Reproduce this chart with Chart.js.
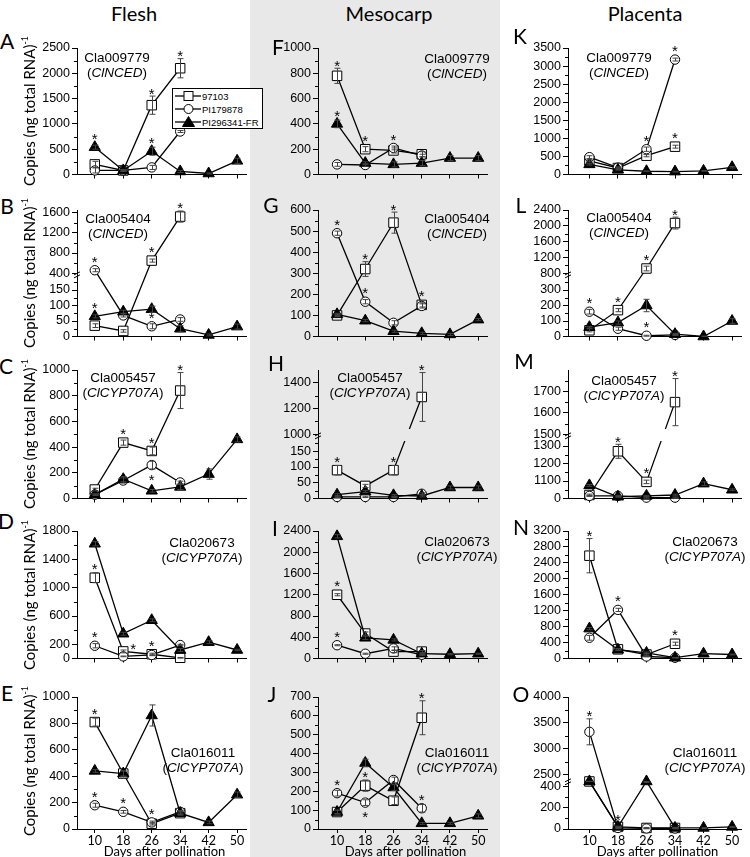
<!DOCTYPE html>
<html>
<head>
<meta charset="utf-8">
<script src="https://cdn.jsdelivr.net/npm/chart.js@4.4.1/dist/chart.umd.min.js"></script>
<style>
html,body{margin:0;padding:0;background:#fff}
body{width:750px;height:857px;position:relative;overflow:hidden}
#meso{position:absolute;left:250px;top:0;width:250px;height:857px;background:#e8e8e8}
.cv{position:absolute;z-index:2}
.ov{position:absolute;z-index:5;color:#000;white-space:nowrap}
.ttl{font-family:Lato,sans-serif;font-size:20px;transform:translate(-50%,-50%)}
.let{font-family:Lato,sans-serif;font-size:21px;transform:translate(-50%,-50%)}
.gene{font-family:'Liberation Sans',Arial,sans-serif;font-size:13.5px;line-height:15px;text-align:center;transform:translate(-50%,0)}
.yt{font-family:Lato,sans-serif;font-size:15px;transform:translate(-50%,-50%) rotate(-90deg)}
.yt sup{font-size:9px;position:relative;top:-1px}
#legend{position:absolute;z-index:6;left:172px;top:88px;width:89px;height:39px;border:1px solid #000;background:#fff;font-family:'Liberation Sans',Arial,sans-serif;font-size:9.5px}
#legend .row{position:absolute;left:2px;height:13px;line-height:13px;white-space:nowrap}
#legend svg{vertical-align:top}
#legend span{position:absolute;left:27px;top:0}
#xt{position:absolute;z-index:5;top:845px;font-family:Lato,sans-serif;font-size:13px;line-height:12px;transform:translate(-50%,0);white-space:nowrap}
</style>
</head>
<body>
<div id="meso"></div>
<script>
// ---------------- DATA ----------------
const days = [10, 18, 26, 34, 42, 50];
const xTickLabels = ['10', '18', '26', '34', '42', '50'];
const seriesNames = ['97103', 'PI179878', 'PI296341-FR'];

// A  Flesh  Cla009779 (ClNCED)
const A_97103 = [200, 80, 1370, 2100];
const A_PI179878 = [80, 80, 140, 850];
const A_PI296341 = [540, 80, 460, 60, 20, 270];
const A_err97103 = [60, 20, 180, 190];
const A_errPI179878 = [50, 10, 40, 20];
const A_errPI296341 = [40, 10, 80, 20, 10, 50];
const A_sig97103 = ['', '', 'a', 'a'];
const A_sigPI179878 = ['', '', '', 'r'];
const A_sigPI296341 = ['a', '', 'a', '', '', ''];
const A_yTicks = [0, 500, 1000, 1500, 2000, 2500];
const A_yMinor = [250, 750, 1250, 1750, 2250];

// B  Flesh  Cla005404 (ClNCED)  broken axis
const B_97103 = [35, 18, 650, 1520];
const B_PI179878 = [460, 68, 33, 55];
const B_PI296341 = [65, 80, 88, 25, 5, 32];
const B_err97103 = [6, 4, 30, 110];
const B_errPI179878 = [30, 5, 8, 6];
const B_errPI296341 = [5, 5, 10, 10, 3, 8];
const B_sig97103 = ['', '', 'a', 'a'];
const B_sigPI179878 = ['a', '', 'a', ''];
const B_sigPI296341 = ['a', '', '', '', '', ''];
const B_yTicks = [0, 50, 100, 150, 400, 800, 1200, 1600];
const B_yMinor = [25, 75, 125, 175, 600, 1000, 1400];

// C  Flesh  Cla005457 (ClCYP707A)
const C_97103 = [70, 435, 370, 840];
const C_PI179878 = [30, 140, 260, 125];
const C_PI296341 = [30, 150, 60, 90, 190, 460];
const C_err97103 = [10, 20, 30, 140];
const C_errPI179878 = [5, 20, 30, 10];
const C_errPI296341 = [5, 20, 10, 20, 40, 20];
const C_sig97103 = ['', 'a', 'a', 'a'];
const C_sigPI179878 = ['', '', 'b', ''];
const C_sigPI296341 = ['', '', '', '', '', ''];
const C_yTicks = [0, 200, 400, 600, 800, 1000];
const C_yMinor = [100, 300, 500, 700, 900];

// D  Flesh  Cla020673 (ClCYP707A)
const D_97103 = [1140, 100, 60, 10];
const D_PI179878 = [180, 30, 50, 190];
const D_PI296341 = [1620, 350, 540, 120, 230, 120];
const D_err97103 = [70, 20, 15, 5];
const D_errPI179878 = [30, 5, 10, 10];
const D_errPI296341 = [30, 20, 20, 20, 20, 10];
const D_sig97103 = ['a', 'r', 'a', ''];
const D_sigPI179878 = ['a', '', '', ''];
const D_sigPI296341 = ['', '', '', '', '', ''];
const D_yTicks = [0, 200, 600, 1000, 1400, 1800];
const D_yMinor = [400, 800, 1200, 1600];

// E  Flesh  Cla016011 (ClCYP707A)
const E_97103 = [810, 420, 40, 120];
const E_PI179878 = [180, 130, 50, 130];
const E_PI296341 = [440, 420, 860, 120, 50, 260];
const E_err97103 = [30, 20, 10, 10];
const E_errPI179878 = [15, 10, 10, 10];
const E_errPI296341 = [10, 20, 80, 15, 10, 20];
const E_sig97103 = ['a', '', '', ''];
const E_sigPI179878 = ['a', 'a', 'a', ''];
const E_sigPI296341 = ['', '', '', '', '', ''];
const E_yTicks = [0, 200, 400, 600, 800, 1000];
const E_yMinor = [100, 300, 500, 700, 900];

// F  Mesocarp  Cla009779 (ClNCED)
const F_97103 = [780, 200, 190, 160];
const F_PI179878 = [80, 75, 210, 150];
const F_PI296341 = [400, 90, 80, 90, 130, 130];
const F_err97103 = [60, 20, 20, 20];
const F_errPI179878 = [15, 10, 15, 10];
const F_errPI296341 = [30, 10, 20, 20, 20, 20];
const F_sig97103 = ['a', 'a', '', ''];
const F_sigPI179878 = ['', '', 'a', ''];
const F_sigPI296341 = ['a', '', '', '', '', ''];
const F_yTicks = [0, 200, 400, 600, 800, 1000];
const F_yMinor = [100, 300, 500, 700, 900];

// G  Mesocarp  Cla005404 (ClNCED)
const G_97103 = [100, 320, 540, 150];
const G_PI179878 = [490, 165, 65, 145];
const G_PI296341 = [105, 75, 25, 15, 10, 80];
const G_err97103 = [5, 35, 50, 10];
const G_errPI179878 = [10, 10, 10, 10];
const G_errPI296341 = [5, 5, 5, 5, 5, 5];
const G_sig97103 = ['', 'a', 'a', 'a'];
const G_sigPI179878 = ['a', 'a', '', ''];
const G_sigPI296341 = ['', '', '', '', '', ''];
const G_yTicks = [0, 100, 200, 300, 400, 500, 600];
const G_yMinor = [50, 150, 250, 350, 450, 550];

// H  Mesocarp  Cla005457 (ClCYP707A)  broken axis
const H_97103 = [90, 40, 90, 1290];
const H_PI179878 = [5, 5, 5, 15];
const H_PI296341 = [12, 22, 10, 8, 35, 35];
const H_err97103 = [15, 5, 15, 190];
const H_errPI179878 = [2, 2, 2, 3];
const H_errPI296341 = [3, 3, 3, 3, 5, 5];
const H_sig97103 = ['a', '', 'a', 'a'];
const H_sigPI179878 = ['', '', '', ''];
const H_sigPI296341 = ['', '', '', '', '', ''];
const H_yTicks = [0, 50, 100, 150, 1000, 1200, 1400];
const H_yMinor = [25, 75, 125, 175, 1100, 1300];

// I  Mesocarp  Cla020673 (ClCYP707A)
const I_97103 = [1200, 470, 130, 130];
const I_PI179878 = [250, 90, 190, 70];
const I_PI296341 = [2300, 390, 350, 90, 80, 90];
const I_err97103 = [20, 30, 20, 20];
const I_errPI179878 = [10, 10, 30, 10];
const I_errPI296341 = [30, 30, 20, 10, 10, 10];
const I_sig97103 = ['a', '', '', ''];
const I_sigPI179878 = ['a', '', '', ''];
const I_sigPI296341 = ['', '', '', '', '', ''];
const I_yTicks = [0, 400, 800, 1200, 1600, 2000, 2400];
const I_yMinor = [200, 600, 1000, 1400, 1800, 2200];

// J  Mesocarp  Cla016011 (ClCYP707A)
const J_97103 = [90, 230, 150, 590];
const J_PI179878 = [190, 140, 260, 110];
const J_PI296341 = [90, 350, 220, 30, 30, 70];
const J_err97103 = [10, 30, 20, 90];
const J_errPI179878 = [15, 15, 15, 20];
const J_errPI296341 = [10, 20, 15, 5, 5, 10];
const J_sig97103 = ['', 'a', '', 'a'];
const J_sigPI179878 = ['a', 'b', '', 'a'];
const J_sigPI296341 = ['', '', '', '', '', ''];
const J_yTicks = [0, 100, 200, 300, 400, 500, 600, 700];
const J_yMinor = [50, 150, 250, 350, 450, 550, 650];

// K  Placenta  Cla009779 (ClNCED)
const K_97103 = [380, 180, 520, 770];
const K_PI179878 = [480, 190, 700, 3180];
const K_PI296341 = [280, 130, 90, 80, 100, 200];
const K_err97103 = [30, 20, 30, 40];
const K_errPI179878 = [40, 20, 60, 40];
const K_errPI296341 = [20, 10, 10, 10, 10, 20];
const K_sig97103 = ['', '', '', 'a'];
const K_sigPI179878 = ['', '', 'a', 'a'];
const K_sigPI296341 = ['', '', '', '', '', ''];
const K_yTicks = [0, 500, 1000, 1500, 2000, 2500, 3000, 3500];
const K_yMinor = [250, 750, 1250, 1750, 2250, 2750, 3250];

// L  Placenta  Cla005404 (ClNCED)  broken axis
const L_97103 = [40, 170, 920, 2070];
const L_PI179878 = [160, 50, 5, 10];
const L_PI296341 = [60, 90, 200, 15, 0, 100];
const L_err97103 = [10, 10, 60, 150];
const L_errPI179878 = [15, 10, 3, 3];
const L_errPI296341 = [5, 10, 40, 5, 3, 15];
const L_sig97103 = ['', 'a', 'a', 'a'];
const L_sigPI179878 = ['a', '', 'a', ''];
const L_sigPI296341 = ['', '', '', '', '', ''];
const L_yTicks = [0, 100, 200, 300, 800, 1200, 1600, 2000, 2400];
const L_yMinor = [50, 150, 250, 350, 1000, 1400, 1800, 2200];

// M  Placenta  Cla005457 (ClCYP707A)  broken axis (labels as printed)
const M_97103 = [1020, 1270, 1095, 1650];
const M_PI179878 = [1015, 1015, 1005, 1005];
const M_PI296341 = [1075, 1010, 1015, 1020, 1085, 1050];
const M_err97103 = [5, 40, 10, 110];
const M_errPI179878 = [3, 3, 3, 3];
const M_errPI296341 = [5, 3, 3, 5, 10, 5];
const M_sig97103 = ['', 'a', 'a', 'a'];
const M_sigPI179878 = ['', '', '', ''];
const M_sigPI296341 = ['', '', '', '', '', ''];
const M_yTicks = [1000, 1100, 1200, 1300, 1500, 1600, 1700];
const M_yTickLabels = ['0', '1100', '1200', '1300', '1500', '1600', '1700'];
const M_yMinor = [1050, 1150, 1250, 1550, 1650, 1750];

// N  Placenta  Cla020673 (ClCYP707A)
const N_97103 = [2580, 230, 100, 370];
const N_PI179878 = [520, 1220, 50, 20];
const N_PI296341 = [750, 220, 140, 20, 120, 100];
const N_err97103 = [430, 20, 20, 40];
const N_errPI179878 = [60, 40, 10, 5];
const N_errPI296341 = [30, 20, 20, 5, 10, 10];
const N_sig97103 = ['a', '', '', 'a'];
const N_sigPI179878 = ['', 'a', '', ''];
const N_sigPI296341 = ['', '', '', '', '', ''];
const N_yTicks = [0, 400, 800, 1200, 1600, 2000, 2400, 2800, 3200];
const N_yMinor = [200, 600, 1000, 1400, 1800, 2200, 2600, 3000];

// O  Placenta  Cla016011 (ClCYP707A)  broken axis
const O_97103 = [480, 20, 10, 10];
const O_PI179878 = [3330, 10, 5, 5];
const O_PI296341 = [500, 20, 460, 10, 10, 20];
const O_err97103 = [20, 5, 5, 5];
const O_errPI179878 = [250, 5, 3, 3];
const O_errPI296341 = [20, 5, 20, 5, 5, 5];
const O_sig97103 = ['', '', '', ''];
const O_sigPI179878 = ['a', 'a', '', ''];
const O_sigPI296341 = ['', '', '', '', '', ''];
const O_yTicks = [0, 200, 400, 2500, 3000, 3500, 4000];
const O_yMinor = [100, 300, 2750, 3250, 3750];

const xAxisTitle = 'Days after pollination';

// ---------------- LAYOUT ----------------
const COLS = [{pl: 77, pr: 246, xmin: 5}, {pl: 318, pr: 487, xmin: 4.6}, {pl: 568, pr: 741, xmin: 4}];
const ROWS = [{pt: 48, pb: 178}, {pt: 210, pb: 340}, {pt: 370, pb: 502}, {pt: 531, pb: 662}, {pt: 697, pb: 829}];
const TOPPAD = 22, LEFTW = 50, RIGHTPAD = 10, XMAX = 52.5;

const PANELS = [
  {id:'A', col:0,row:0, d:[A_97103,A_PI179878,A_PI296341], e:[A_err97103,A_errPI179878,A_errPI296341], s:[A_sig97103,A_sigPI179878,A_sigPI296341], ticks:A_yTicks, minor:A_yMinor, knots:[[0,0],[2500,1]], gene:'Cla009779', gn:'ClNCED', gx:117, gy:57, lx:7, ly:40},
  {id:'B', col:0,row:1, d:[B_97103,B_PI179878,B_PI296341], e:[B_err97103,B_errPI179878,B_errPI296341], s:[B_sig97103,B_sigPI179878,B_sigPI296341], ticks:B_yTicks, minor:B_yMinor, knots:[[0,0],[200,0.49],[400,0.5],[1650,1]], gene:'Cla005404', gn:'ClNCED', gx:118, gy:218, lx:7, ly:205},
  {id:'C', col:0,row:2, d:[C_97103,C_PI179878,C_PI296341], e:[C_err97103,C_errPI179878,C_errPI296341], s:[C_sig97103,C_sigPI179878,C_sigPI296341], ticks:C_yTicks, minor:C_yMinor, knots:[[0,0],[1000,1]], gene:'Cla005457', gn:'ClCYP707A', gx:123, gy:377, lx:6, ly:365},
  {id:'D', col:0,row:3, d:[D_97103,D_PI179878,D_PI296341], e:[D_err97103,D_errPI179878,D_errPI296341], s:[D_sig97103,D_sigPI179878,D_sigPI296341], ticks:D_yTicks, minor:D_yMinor, knots:[[0,0],[1800,1]], gene:'Cla020673', gn:'ClCYP707A', gx:202, gy:542, lx:6, ly:520},
  {id:'E', col:0,row:4, d:[E_97103,E_PI179878,E_PI296341], e:[E_err97103,E_errPI179878,E_errPI296341], s:[E_sig97103,E_sigPI179878,E_sigPI296341], ticks:E_yTicks, minor:E_yMinor, knots:[[0,0],[1000,1]], gene:'Cla016011', gn:'ClCYP707A', gx:203, gy:752, lx:7, ly:692},
  {id:'F', col:1,row:0, d:[F_97103,F_PI179878,F_PI296341], e:[F_err97103,F_errPI179878,F_errPI296341], s:[F_sig97103,F_sigPI179878,F_sigPI296341], ticks:F_yTicks, minor:F_yMinor, knots:[[0,0],[1000,1]], gene:'Cla009779', gn:'ClNCED', gx:457, gy:58, lx:278, ly:46},
  {id:'G', col:1,row:1, d:[G_97103,G_PI179878,G_PI296341], e:[G_err97103,G_errPI179878,G_errPI296341], s:[G_sig97103,G_sigPI179878,G_sigPI296341], ticks:G_yTicks, minor:G_yMinor, knots:[[0,0],[600,1]], gene:'Cla005404', gn:'ClNCED', gx:457, gy:218, lx:271, ly:204},
  {id:'H', col:1,row:2, d:[H_97103,H_PI179878,H_PI296341], e:[H_err97103,H_errPI179878,H_errPI296341], s:[H_sig97103,H_sigPI179878,H_sigPI296341], ticks:H_yTicks, minor:H_yMinor, knots:[[0,0],[200,0.49],[1000,0.5],[1500,1]], gap:true, gene:'Cla005457', gn:'ClCYP707A', gx:370, gy:377, lx:276, ly:362},
  {id:'I', col:1,row:3, d:[I_97103,I_PI179878,I_PI296341], e:[I_err97103,I_errPI179878,I_errPI296341], s:[I_sig97103,I_sigPI179878,I_sigPI296341], ticks:I_yTicks, minor:I_yMinor, knots:[[0,0],[2400,1]], gene:'Cla020673', gn:'ClCYP707A', gx:457, gy:541, lx:275, ly:527},
  {id:'J', col:1,row:4, d:[J_97103,J_PI179878,J_PI296341], e:[J_err97103,J_errPI179878,J_errPI296341], s:[J_sig97103,J_sigPI179878,J_sigPI296341], ticks:J_yTicks, minor:J_yMinor, knots:[[0,0],[700,1]], gene:'Cla016011', gn:'ClCYP707A', gx:457, gy:752, lx:272, ly:693},
  {id:'K', col:2,row:0, d:[K_97103,K_PI179878,K_PI296341], e:[K_err97103,K_errPI179878,K_errPI296341], s:[K_sig97103,K_sigPI179878,K_sigPI296341], ticks:K_yTicks, minor:K_yMinor, knots:[[0,0],[3500,1]], gene:'Cla009779', gn:'ClNCED', gx:619, gy:57, lx:520, ly:35},
  {id:'L', col:2,row:1, d:[L_97103,L_PI179878,L_PI296341], e:[L_err97103,L_errPI179878,L_errPI296341], s:[L_sig97103,L_sigPI179878,L_sigPI296341], ticks:L_yTicks, minor:L_yMinor, knots:[[0,0],[400,0.49],[800,0.5],[2400,1]], gene:'Cla005404', gn:'ClNCED', gx:619, gy:217, lx:521, ly:204},
  {id:'M', col:2,row:2, d:[M_97103,M_PI179878,M_PI296341], e:[M_err97103,M_errPI179878,M_errPI296341], s:[M_sig97103,M_sigPI179878,M_sigPI296341], ticks:M_yTicks, labels:M_yTickLabels, minor:M_yMinor, knots:[[1000,0],[1360,0.49],[1500,0.5],[1800,1]], gap:true, gene:'Cla005457', gn:'ClCYP707A', gx:624, gy:380, lx:524, ly:360},
  {id:'N', col:2,row:3, d:[N_97103,N_PI179878,N_PI296341], e:[N_err97103,N_errPI179878,N_errPI296341], s:[N_sig97103,N_sigPI179878,N_sigPI296341], ticks:N_yTicks, minor:N_yMinor, knots:[[0,0],[3200,1]], gene:'Cla020673', gn:'ClCYP707A', gx:705, gy:541, lx:521, ly:526},
  {id:'O', col:2,row:4, d:[O_97103,O_PI179878,O_PI296341], e:[O_err97103,O_errPI179878,O_errPI296341], s:[O_sig97103,O_sigPI179878,O_sigPI296341], ticks:O_yTicks, minor:O_yMinor, knots:[[0,0],[450,0.36],[2400,0.37],[4000,1]], gene:'Cla016011', gn:'ClCYP707A', gx:705, gy:752, lx:521, ly:693}
];
const PANEL_MAP = {};
PANELS.forEach(p => PANEL_MAP['cv' + p.id] = p);

// ---------------- CUSTOM BROKEN-AXIS SCALE ----------------
class BrokenScale extends Chart.LinearScale {
  static id = 'broken';
  static defaults = {};
  _knots() { const p = PANEL_MAP[this.chart.canvas.id]; return p ? p.knots : null; }
  getPixelForValue(value) {
    const k = this._knots();
    if (!k || value === null || value === undefined) return super.getPixelForValue(value);
    let i = 0;
    while (i < k.length - 2 && value > k[i + 1][0]) i++;
    const a = k[i], b = k[i + 1];
    const d = a[1] + (value - a[0]) / (b[0] - a[0]) * (b[1] - a[1]);
    return this.getPixelForDecimal(d);
  }
  getValueForPixel(pixel) {
    const k = this._knots();
    if (!k) return super.getValueForPixel(pixel);
    const d = this.getDecimalForPixel(pixel);
    let i = 0;
    while (i < k.length - 2 && d > k[i + 1][1]) i++;
    const a = k[i], b = k[i + 1];
    return a[0] + (d - a[1]) / (b[1] - a[1]) * (b[0] - a[0]);
  }
}
Chart.register(BrokenScale);

// ---------------- PLUGIN: error bars, asterisks, minor ticks, break marks ----------------
function drawStar(ctx, x, y) {
  ctx.font = '15px "Liberation Sans", Arial, sans-serif';
  ctx.textAlign = 'center';
  ctx.textBaseline = 'alphabetic';
  ctx.fillStyle = '#000';
  ctx.fillText('*', x, y + 8.6);
}
const marksPlugin = {
  id: 'marks',
  afterDatasetsDraw(chart) {
    const P = PANEL_MAP[chart.canvas.id];
    const ctx = chart.ctx, xs = chart.scales.x, ys = chart.scales.y;
    const ymin = P.knots[0][0];
    ctx.save();
    if (P.gap) {
      const brk = ys.getPixelForDecimal((P.knots[1][1] + P.knots[2][1]) / 2);
      const v = P.d[0];
      for (let i = 0; i < v.length - 1; i++) {
        const x1 = xs.getPixelForValue(days[i]), y1 = ys.getPixelForValue(v[i]);
        const x2 = xs.getPixelForValue(days[i + 1]), y2 = ys.getPixelForValue(v[i + 1]);
        if ((y1 - brk) * (y2 - brk) < 0) {
          const t = (brk - y1) / (y2 - y1);
          const cx = x1 + t * (x2 - x1);
          ctx.clearRect(cx - 4, brk - 6, 8, 12);
        }
      }
    }
    ctx.strokeStyle = '#444';
    ctx.lineWidth = 1;
    P.d.forEach((vals, k) => {
      vals.forEach((v, i) => {
        const e = P.e[k][i];
        if (!e) return;
        const px = Math.round(xs.getPixelForValue(days[i])) + 0.5;
        const t = ys.getPixelForValue(v + e);
        const b = ys.getPixelForValue(Math.max(ymin, v - e));
        ctx.beginPath();
        ctx.moveTo(px, t); ctx.lineTo(px, b);
        ctx.moveTo(px - 3, t); ctx.lineTo(px + 3, t);
        ctx.moveTo(px - 3, b); ctx.lineTo(px + 3, b);
        ctx.stroke();
      });
    });
    P.d.forEach((vals, k) => {
      vals.forEach((v, i) => {
        const code = P.s[k][i];
        if (!code) return;
        const px = xs.getPixelForValue(days[i]);
        const py = ys.getPixelForValue(v);
        const et = ys.getPixelForValue(v + (P.e[k][i] || 0));
        if (code === 'a') drawStar(ctx, px, Math.min(py - 12, et - 6));
        else if (code === 'r') drawStar(ctx, px + 10, py - 6);
        else if (code === 'b') drawStar(ctx, px, py + 11);
      });
    });
    ctx.restore();
  },
  afterDraw(chart) {
    const P = PANEL_MAP[chart.canvas.id];
    const ctx = chart.ctx, ys = chart.scales.y;
    const ax = chart.chartArea.left;
    ctx.save();
    ctx.strokeStyle = '#000';
    ctx.lineWidth = 1;
    ctx.beginPath();
    P.minor.forEach(v => {
      const py = Math.round(ys.getPixelForValue(v)) + 0.5;
      ctx.moveTo(ax - 3, py); ctx.lineTo(ax, py);
    });
    ctx.stroke();
    if (P.knots.length === 4) {
      const d = (P.knots[1][1] + P.knots[2][1]) / 2;
      const py = ys.getPixelForDecimal(d);
      ctx.beginPath();
      ctx.moveTo(ax - 3, py + 1); ctx.lineTo(ax + 3, py - 2);
      ctx.moveTo(ax - 3, py + 4); ctx.lineTo(ax + 3, py + 1);
      ctx.stroke();
    }
    ctx.restore();
  }
};

Chart.defaults.font.family = "'Liberation Sans', Arial, sans-serif";
Chart.defaults.color = '#000';

function mkDs(vals, style, fill, r, label) {
  return {
    label: label,
    data: vals.map((v, i) => ({x: days[i], y: v})),
    borderColor: '#000', borderWidth: 1.3, tension: 0, fill: false,
    pointStyle: style, pointRadius: r, pointBackgroundColor: fill,
    pointBorderColor: '#000', pointBorderWidth: 1, clip: false
  };
}

PANELS.forEach(P => {
  const C = COLS[P.col], R = ROWS[P.row];
  const bottom = P.row === 4;
  const bh = bottom ? 18 : 6;
  const W = LEFTW + (C.pr - C.pl) + RIGHTPAD;
  const H = TOPPAD + (R.pb - R.pt) + bh;
  const cv = document.createElement('canvas');
  cv.id = 'cv' + P.id;
  cv.width = W; cv.height = H;
  cv.className = 'cv';
  cv.style.left = (C.pl - LEFTW) + 'px';
  cv.style.top = (R.pt - TOPPAD) + 'px';
  cv.style.width = W + 'px'; cv.style.height = H + 'px';
  document.body.appendChild(cv);
  new Chart(cv, {
    type: 'line',
    data: {datasets: [
      mkDs(P.d[2], 'triangle', '#000', 6.5, seriesNames[2]),
      mkDs(P.d[1], 'circle', '#fff', 4.7, seriesNames[1]),
      mkDs(P.d[0], 'rect', '#fff', 6.7, seriesNames[0])
    ]},
    options: {
      responsive: false, animation: false, devicePixelRatio: 1,
      layout: {padding: {top: TOPPAD, right: RIGHTPAD, left: 0, bottom: 0}},
      plugins: {legend: {display: false}, tooltip: {enabled: false}},
      scales: {
        x: {
          type: 'linear', min: C.xmin, max: XMAX,
          afterBuildTicks: s => { s.ticks = days.map(v => ({value: v})); },
          afterFit: s => { s.height = bh; },
          ticks: {display: bottom, autoSkip: false, maxRotation: 0, padding: 0,
                  font: {family: 'Lato', size: 12.5}, callback: (v, i) => xTickLabels[i]},
          grid: {drawOnChartArea: false, drawTicks: true, tickLength: 4, tickColor: '#000'},
          border: {display: true, color: '#000', width: 1}
        },
        y: {
          type: 'broken', min: P.knots[0][0], max: P.knots[P.knots.length - 1][0],
          afterBuildTicks: s => { s.ticks = P.ticks.map(v => ({value: v})); },
          afterFit: s => { s.width = LEFTW; },
          ticks: {autoSkip: false, padding: 2, font: {size: 12.5},
                  callback: (v, i) => P.labels ? P.labels[i] : String(P.ticks[i])},
          grid: {drawOnChartArea: false, drawTicks: true, tickLength: 5, tickColor: '#000'},
          border: {display: true, color: '#000', width: 1}
        }
      }
    },
    plugins: [marksPlugin]
  });
});

// ---------------- TEXT OVERLAYS ----------------
function addDiv(cls, x, y, html) {
  const d = document.createElement('div');
  d.className = 'ov ' + cls;
  d.style.left = x + 'px'; d.style.top = y + 'px';
  d.innerHTML = html;
  document.body.appendChild(d);
  return d;
}
addDiv('ttl', 134, 13, 'Flesh');
addDiv('ttl', 389, 13, 'Mesocarp');
addDiv('ttl', 645, 13, 'Placenta');
PANELS.forEach(P => {
  addDiv('let', P.lx, P.ly, P.id);
  addDiv('gene', P.gx, P.gy - 7.5, P.gene + '<br>(<i>' + P.gn + '</i>)');
});
ROWS.forEach(R => {
  addDiv('yt', 29, (R.pt + R.pb) / 2 - 2, 'Copies (ng total RNA)<sup>-1</sup>');
});
// x-axis titles under each bottom panel
COLS.forEach(C => {
  const d = document.createElement('div');
  d.id = 'xt';
  d.style.left = ((C.pl + C.pr) / 2 + 3) + 'px';
  d.textContent = xAxisTitle;
  document.body.appendChild(d);
});

const lg = document.createElement('div');
lg.id = 'legend';
const mk = [
  '<rect x="9" y="1.5" width="9" height="9" fill="#fff" stroke="#000"/>',
  '<circle cx="13.5" cy="6" r="4.5" fill="#fff" stroke="#000"/>',
  '<polygon points="13.5,0.5 19.5,10.5 7.5,10.5" fill="#000" stroke="#000"/>'
];
seriesNames.forEach((n, i) => {
  const row = document.createElement('div');
  row.className = 'row';
  row.style.top = (1 + i * 13) + 'px';
  row.innerHTML = '<svg width="26" height="12"><line x1="0" y1="6" x2="26" y2="6" stroke="#000" stroke-width="1.3"/>' + mk[i] + '</svg><span>' + n + '</span>';
  lg.appendChild(row);
});
document.body.appendChild(lg);
</script>
</body>
</html>
